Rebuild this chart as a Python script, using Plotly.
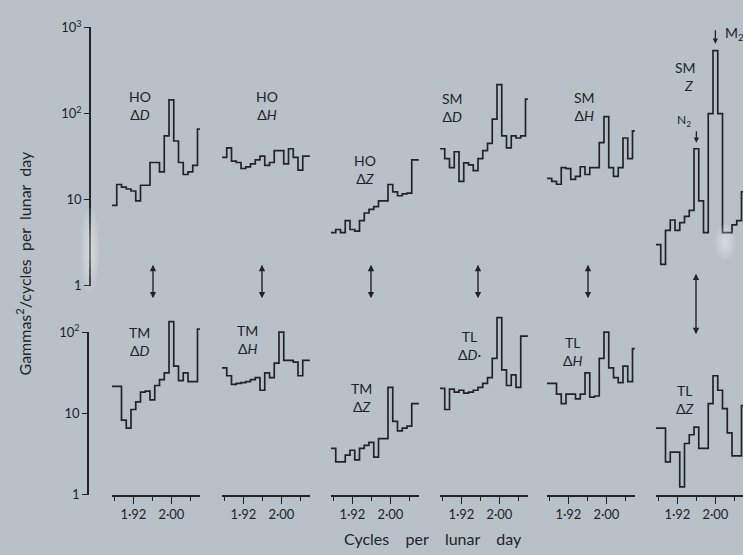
import math
import plotly.graph_objects as go

W, H = 743, 555
INK = "#202428"
BG = "#b9c1c8"
FONT = "Lato, 'Noto Sans', sans-serif"

# Spectral estimates on 0.01 cycles-per-lunar-day bins (bin centres)
freq = [1.88, 1.89, 1.90, 1.91, 1.92, 1.93, 1.94, 1.95, 1.96, 1.97,
        1.98, 1.99, 2.00, 2.01, 2.02, 2.03, 2.04, 2.05, 2.06]
bin_width = 0.01

# Upper row: HO and SM stations (gammas^2 / cycles per lunar day)
HO_dD = [8.6, 15, 14, 13.3, 12.6, 9.7, 14.7, 14.7, 27, 27, 21, 55, 144, 48, 27, 19.6, 21, 25, 66]
HO_dH = [31, 40, 28, 27, 23, 24, 26, 29, 32, 25, 27, 37, 37, 26, 39, 31, 22, 32, 32]
HO_dZ = [4.15, 4.5, 4.15, 5.7, 4.5, 4.3, 5.7, 7.0, 7.7, 8.3, 9.7, 9.7, 15, 12.3, 11.1, 11.7, 11.9, 29, 29]
SM_dD = [39, 30, 23.5, 36, 16.3, 26.7, 25.4, 21.7, 30, 37, 45, 86, 217, 55, 40, 55, 52, 55, 147]
SM_dH = [17.7, 16.3, 15.1, 23.5, 22.9, 17.2, 18.6, 24.1, 19.6, 23.5, 23.5, 46, 92, 23.5, 18.6, 23.5, 52, 30, 63]
SM_Z = [3.0, 1.77, 4.4, 5.8, 4.4, 5.4, 6.4, 7.5, 39, 9.7, 4.15, 100, 537, 100, 4.15, 4.15, 5.1, 5.7, 12.3]

# Lower row: TM and TL stations
TM_dD = [21.5, 21.5, 8.3, 6.6, 11.2, 13.9, 18.3, 18.8, 14.7, 22.1, 26.1, 31.6, 135, 38.3, 25.4, 31.6, 24.7, 24.7, 109]
TM_dH = [36.3, 29.1, 22.8, 23.4, 24, 24.7, 26.1, 27.6, 19.3, 31.6, 27.6, 41.6, 100, 45, 45, 42.8, 29.1, 45, 45]
TM_dZ = [3.73, 2.54, 2.54, 3.08, 3.53, 2.68, 3.73, 4.05, 4.4, 2.91, 4.9, 4.9, 21, 8.0, 6.1, 6.6, 7.0, 13.2, 13.2]
TL_dD = [20.4, 11.2, 19.9, 18.3, 19.3, 17.8, 18.3, 19.3, 21, 23.4, 27.6, 47.7, 151, 34.3, 22.1, 29.9, 21, 89.6, 89.6]
TL_dH = [23.4, 23.4, 17.3, 13.2, 17.3, 17.3, 15.1, 17.3, 31.6, 15.9, 16.4, 47.7, 100, 36.3, 27.6, 24, 38.3, 24.7, 62.8]
TL_dZ = [6.6, 6.6, 2.54, 3.34, 3.34, 1.25, 4.27, 5.47, 6.8, 3.73, 3.73, 13.2, 29.1, 19.3, 11.5, 5.78, 3.0, 3.0, 12.5]

top_series = [HO_dD, HO_dH, HO_dZ, SM_dD, SM_dH, SM_Z]
bottom_series = [TM_dD, TM_dH, TM_dZ, TL_dD, TL_dH, TL_dZ]
top_labels = ["HO<br>Δ<i>D</i>", "HO<br>Δ<i>H</i>", "HO<br>Δ<i>Z</i>",
              "SM<br>Δ<i>D</i>", "SM<br>Δ<i>H</i>", "SM<br>  <i>Z</i>"]
bottom_labels = ["TM<br>Δ<i>D</i>", "TM<br>Δ<i>H</i>", "TM<br>Δ<i>Z</i>",
                 "TL<br>Δ<i>D</i>·", "TL<br>Δ<i>H</i>", "TL<br>Δ<i>Z</i>"]
freq_ticks = [1.92, 2.00]
freq_tick_text = ["1·92", "2·00"]
freq_minor = [1.88, 1.96, 2.04]
power_ticks_top = [1, 10, 100, 1000]
power_text_top = ["1", "10", "10<sup>2</sup>", "10<sup>3</sup>"]
power_ticks_bottom = [1, 10, 100]
power_text_bottom = ["1", "10", "10<sup>2</sup>"]

# ---- layout geometry (pixels) ----
panel_left = [112, 222, 331, 440, 547, 656]
px_per_cpd = 475.0
f_lo, f_hi = 1.875, 2.06
top_y1, top_y1000 = 285, 18            # pixel rows of 1 and 10^3 (upper row)
bot_y1, bot_y100 = 501, 333            # pixel rows of 1 and 10^2 (lower row)
bot_top_px = 300                       # lower-row plotting area extends above 10^2
bot_decade = (bot_y1 - bot_y100) / 2.0


def px(x):
    return x / W


def py(y):
    return 1 - y / H


def steps(values):
    edges = [c - bin_width / 2 for c in freq] + [freq[-1] + bin_width / 2]
    return edges, list(values) + [values[-1]]


fig = go.Figure()
line = dict(color=INK, width=1.7, shape="hv")
for i in range(6):
    xa = "x" if i == 0 else f"x{i + 1}"
    ex, ey = steps(top_series[i])
    fig.add_trace(go.Scatter(x=ex, y=ey, mode="lines", line=line,
                             xaxis=xa, yaxis="y", showlegend=False, hoverinfo="skip"))
    ex, ey = steps(bottom_series[i])
    fig.add_trace(go.Scatter(x=ex, y=ey, mode="lines", line=line,
                             xaxis=xa, yaxis="y2", showlegend=False, hoverinfo="skip"))
# carrier for the lower left-hand scale
fig.add_trace(go.Scatter(x=[None], y=[None], xaxis="x", yaxis="y3",
                         showlegend=False, hoverinfo="skip"))

layout = dict(
    width=W, height=H, margin=dict(l=0, r=0, t=0, b=0),
    paper_bgcolor=BG, plot_bgcolor="rgba(0,0,0,0)",
    font=dict(family=FONT, color=INK, size=13),
    showlegend=False,
)

for i, left in enumerate(panel_left):
    right_px = min(left + (f_hi - f_lo) * px_per_cpd, W)
    name = "xaxis" if i == 0 else f"xaxis{i + 1}"
    layout[name] = dict(
        domain=[px(left), px(right_px)],
        range=[f_lo, f_lo + (right_px - left) / px_per_cpd],
        anchor="y2", showline=True, linecolor=INK, linewidth=1.6,
        ticks="outside", ticklen=7, tickwidth=1.4, tickcolor=INK,
        tickvals=freq_ticks, ticktext=freq_tick_text,
        tickfont=dict(size=13, color=INK, family=FONT),
        showgrid=False, zeroline=False,
        minor=dict(tickvals=freq_minor, ticks="outside", ticklen=4,
                   tickwidth=1.3, tickcolor=INK, showgrid=False),
    )

layout["yaxis"] = dict(
    type="log", range=[0, 3], domain=[py(top_y1), py(top_y1000)],
    anchor="free", position=px(90), showline=True, linecolor=INK, linewidth=1.8,
    ticks="outside", ticklen=5, tickwidth=1.4, tickcolor=INK,
    tickvals=power_ticks_top, ticktext=power_text_top,
    tickfont=dict(size=13, color=INK, family=FONT),
    showgrid=False, zeroline=False,
)
layout["yaxis2"] = dict(
    type="log", range=[0, (bot_y1 - bot_top_px) / bot_decade],
    domain=[py(bot_y1), py(bot_top_px)], anchor="free", position=0,
    visible=False, showgrid=False, zeroline=False,
)
layout["yaxis3"] = dict(
    type="log", range=[0, 2], domain=[py(bot_y1), py(bot_y100)],
    anchor="free", position=px(88), showline=True, linecolor=INK, linewidth=1.8,
    ticks="outside", ticklen=5, tickwidth=1.4, tickcolor=INK,
    tickvals=power_ticks_bottom, ticktext=power_text_bottom,
    tickfont=dict(size=13, color=INK, family=FONT),
    showgrid=False, zeroline=False,
)
fig.update_layout(**layout)

ann = []
lab_font = dict(size=14, color=INK, family=FONT)
top_pos = [(140, 99), (267, 99), (365, 165), (452, 101), (584, 100), (685, 69)]
bot_pos = [(139, 343), (247, 341), (361, 401), (470, 347), (573, 353), (685, 403)]
for (x, y), t in zip(top_pos + bot_pos, top_labels + bottom_labels):
    ann.append(dict(x=px(x), y=py(y), xref="paper", yref="paper", text=t,
                    xanchor="center", yanchor="middle",
                    showarrow=False, font=lab_font, align="center"))

# double-headed arrows linking the two rows
for x, y0, y1 in [(153, 263, 298), (262, 263, 298), (371, 263, 298),
                  (478, 263, 298), (588, 263, 298), (696, 273, 335)]:
    ann.append(dict(x=px(x), y=py(y1), xref="paper", yref="paper", text="",
                    showarrow=True, ax=0, ay=-(y1 - y0), arrowhead=2, arrowsize=0.9,
                    arrowwidth=1.4, arrowcolor=INK, arrowside="end+start",
                    standoff=0, startstandoff=0))

# tidal lines marked on the SM Z spectrum
n2 = SM_Z[freq.index(1.96)]
m2 = SM_Z[freq.index(2.00)]
ann.append(dict(x=1.96, y=math.log10(n2) + 0.07, xref="x6", yref="y", text="",
                showarrow=True, ax=0, ay=-13, arrowhead=2, arrowsize=0.8,
                arrowwidth=1.3, arrowcolor=INK, standoff=0))
ann.append(dict(x=px(684), y=py(114), xref="paper", yref="paper",
                xanchor="center", yanchor="middle",
                text="N<sub>2</sub>", showarrow=False, font=dict(size=12, color=INK, family=FONT)))
ann.append(dict(x=2.00, y=math.log10(m2) + 0.08, xref="x6", yref="y", text="",
                showarrow=True, ax=0, ay=-15, arrowhead=2, arrowsize=0.8,
                arrowwidth=1.3, arrowcolor=INK, standoff=0))
ann.append(dict(x=px(723), y=py(24), xref="paper", yref="paper",
                xanchor="left", yanchor="middle",
                text="M<sub>2</sub>", showarrow=False, font=dict(size=14, color=INK, family=FONT)))

# axis titles
ann.append(dict(x=px(24), y=py(262), xref="paper", yref="paper", textangle=-90,
                xanchor="center", yanchor="middle",
                text="Gammas<sup>2</sup>/cycles  per  lunar  day", showarrow=False,
                font=dict(size=16, color=INK, family=FONT)))
ann.append(dict(x=px(433), y=py(546), xref="paper", yref="paper",
                xanchor="center", yanchor="middle",
                text="Cycles    per    lunar    day", showarrow=False,
                font=dict(size=16, color=INK, family=FONT)))

# washed-out patches of the print, built up from soft nested ellipses
shapes = []
for cx, cy, rx, ry in [(90, 248, 9, 44), (725, 240, 10, 18)]:
    for k in range(5):
        f = 1 - k * 0.18
        shapes.append(dict(type="circle", xref="paper", yref="paper",
                           x0=px(cx - rx * f), x1=px(cx + rx * f),
                           y0=py(cy + ry * f), y1=py(cy - ry * f),
                           fillcolor="rgba(255,255,255,0.09)", line=dict(width=0),
                           layer="above"))

fig.update_layout(annotations=ann, shapes=shapes)
fig.write_html("out.html")
